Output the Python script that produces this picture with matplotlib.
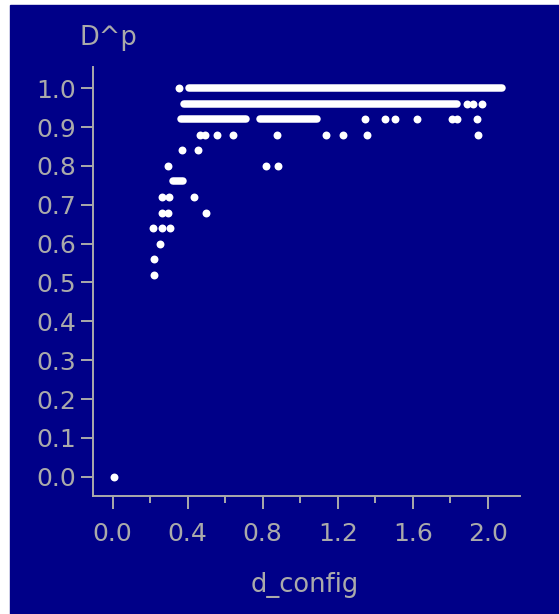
import matplotlib
matplotlib.use('Agg')
import matplotlib.pyplot as plt
from matplotlib.patches import Rectangle

plt.rcParams['font.family'] = 'DejaVu Sans'

navy = '#000088'
grey = '#aaaaaa'

# isolated points: (d_config, D^p)
pts_x = [0.007,
         0.220, 0.220, 0.252,
         0.217, 0.265, 0.306,
         0.261, 0.297, 0.498,
         0.261, 0.302, 0.435,
         0.297, 0.818, 0.883,
         0.371, 0.457,
         0.468, 0.490, 0.555, 0.640, 0.878, 1.135, 1.230, 1.355, 1.950,
         1.346, 1.452, 1.505, 1.625, 1.808, 1.835, 1.941,
         1.888, 1.920, 1.968,
         0.354]
pts_y = [0.00,
         0.52, 0.56, 0.60,
         0.64, 0.64, 0.64,
         0.68, 0.68, 0.68,
         0.72, 0.72, 0.72,
         0.80, 0.80, 0.80,
         0.84, 0.84,
         0.88, 0.88, 0.88, 0.88, 0.88, 0.88, 0.88, 0.88, 0.88,
         0.92, 0.92, 0.92, 0.92, 0.92, 0.92, 0.92,
         0.96, 0.96, 0.96,
         1.00]

# dense runs of overlapping points: level, first x, last x
run_y = [1.00, 0.96, 0.92, 0.92, 0.76]
run_x0 = [0.405, 0.381, 0.363, 0.785, 0.323]
run_x1 = [2.074, 1.836, 0.712, 1.090, 0.377]

fig = plt.figure(figsize=(5.59, 6.14), dpi=100, facecolor='white')
bg = Rectangle((10/559, 0), 1 - 10/559, 609/614,
               transform=fig.transFigure, color=navy, zorder=-5)
fig.add_artist(bg)

ax = fig.add_axes([0.1658, 0.1927, 0.7644, 0.6977])
ax.set_facecolor(navy)
ax.set_xlim(-0.1067, 2.172)
ax.set_ylim(-0.0489, 1.054)

ax.hlines(run_y, run_x0, run_x1, colors='white', linewidth=5.4,
          capstyle='round', zorder=3)
ax.plot(pts_x, pts_y, 'o', color='white', markersize=5.7,
        markeredgewidth=0, zorder=3)

for s in ['top', 'right']:
    ax.spines[s].set_visible(False)
for s in ['left', 'bottom']:
    ax.spines[s].set_color(grey)
    ax.spines[s].set_linewidth(1.4)

xticks = [0.0, 0.4, 0.8, 1.2, 1.6, 2.0]
xminor = [0.2, 0.6, 1.0, 1.4, 1.8]
yticks = [0.0, 0.1, 0.2, 0.3, 0.4, 0.5, 0.6, 0.7, 0.8, 0.9, 1.0]

ax.set_xticks(xticks)
ax.set_xticklabels(['%.1f' % v for v in xticks])
ax.set_xticks(xminor, minor=True)
ax.set_yticks(yticks)
ax.set_yticklabels(['%.1f' % v for v in yticks])

ax.tick_params(axis='x', which='major', length=9.4, width=1.4, color=grey,
               labelcolor=grey, labelsize=18, pad=9.2)
ax.tick_params(axis='x', which='minor', length=5, width=1.4, color=grey)
ax.tick_params(axis='y', which='major', length=9, width=1.4, color=grey,
               labelcolor=grey, labelsize=18, pad=3.0)

fig.text(79/559, (614-45)/614, 'D^p', color=grey, fontsize=18.5,
         ha='left', va='baseline')
fig.text(305/559, (614-592)/614, 'd_config', color=grey, fontsize=18.5,
         ha='center', va='baseline')

fig.savefig('out.png', dpi=100, facecolor='white')
